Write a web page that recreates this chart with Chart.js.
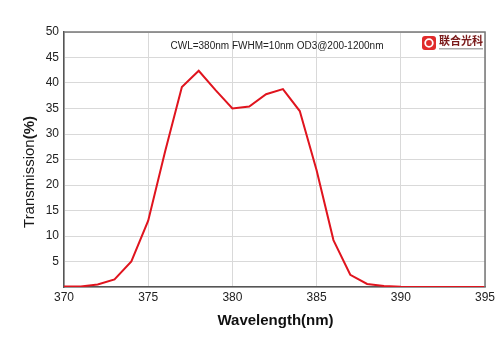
<!DOCTYPE html>
<html>
<head>
<meta charset="utf-8">
<script src="https://cdn.jsdelivr.net/npm/chart.js@4/dist/chart.umd.min.js"></script>
<style>
  html, body { margin: 0; padding: 0; background: #fff; }
  #wrap { width: 500px; height: 353px; position: relative; }
</style>
</head>
<body>
<div id="wrap"><canvas id="specChart" width="500" height="353"></canvas></div>
<script>
// --- spectrum data ---
const wavelengths = [370, 371, 372, 373, 374, 375, 376, 377, 378, 379, 380, 381, 382, 383, 384, 385, 386, 387, 388, 389, 390, 391, 392, 393, 394, 395];
const transmission = [0.1, 0.1, 0.5, 1.5, 5, 13, 26.5, 39.2, 42.4, 38.6, 35.0, 35.4, 37.8, 38.8, 34.5, 22.9, 9.2, 2.4, 0.6, 0.2, 0.05, 0, 0, 0, 0, 0];
const xTicks = [370, 375, 380, 385, 390, 395];
const yTicks = [5, 10, 15, 20, 25, 30, 35, 40, 45, 50];
const noteText = 'CWL=380nm FWHM=10nm OD3@200-1200nm';
const brandText = '联合光科';

const FONT = '"Liberation Sans", Arial, sans-serif';

// titles, frame, note and logo
const decor = {
  id: 'decor',
  afterDraw(chart){
    const c = chart.ctx, a = chart.chartArea;
    c.save();
    // top/right frame
    c.strokeStyle = '#777';
    c.lineWidth = 1.5;
    c.beginPath();
    c.moveTo(a.left, a.top); c.lineTo(a.right, a.top); c.lineTo(a.right, a.bottom);
    c.stroke();

    // x title
    c.fillStyle = '#111';
    c.font = 'bold 15px ' + FONT;
    c.textAlign = 'center';
    c.textBaseline = 'middle';
    c.fillText('Wavelength(nm)', (a.left + a.right) / 2 + 1, 321);

    // y title: normal + bold part
    c.translate(30, 172);
    c.rotate(-Math.PI / 2);
    c.textAlign = 'left';
    c.fillStyle = '#1a1a1a';
    c.font = '15px ' + FONT;
    const w1 = c.measureText('Transmission').width;
    c.font = 'bold 15px ' + FONT;
    const w2 = c.measureText('(%)').width;
    const x0 = -(w1 + w2) / 2;
    c.font = '15px ' + FONT;
    c.fillText('Transmission', x0, 0);
    c.font = 'bold 15px ' + FONT;
    c.fillText('(%)', x0 + w1, 0);
    c.setTransform(1, 0, 0, 1, 0, 0);

    // note
    c.font = '10px ' + FONT;
    c.textAlign = 'center';
    c.fillStyle = '#222';
    c.fillText(noteText, 277, 46);

    // logo
    const lx = 422, ly = 36;
    c.fillStyle = '#e02a2a';
    c.beginPath();
    c.roundRect(lx, ly, 14, 14, 3);
    c.fill();
    c.strokeStyle = '#fff';
    c.lineWidth = 1.8;
    c.beginPath();
    c.arc(lx + 7, ly + 7, 3.8, 0, Math.PI * 2);
    c.stroke();
    c.fillStyle = '#7a1a1a';
    c.font = 'bold 11px "Noto Sans CJK SC", sans-serif';
    c.textAlign = 'left';
    c.fillText(brandText, lx + 17, ly + 5);
    c.fillStyle = '#aaa';
    c.fillRect(lx + 17, ly + 12, 44, 1.5);
    c.restore();
  }
};

new Chart(document.getElementById('specChart'), {
  type: 'line',
  data: {
    datasets: [{
      data: wavelengths.map((x, i) => ({ x, y: transmission[i] })),
      borderColor: '#e0141e',
      borderWidth: 2,
      pointRadius: 0,
      tension: 0,
      fill: false
    }]
  },
  options: {
    responsive: false,
    animation: false,
    layout: { padding: { top: 32, right: 15, left: 0, bottom: 0 } },
    plugins: { legend: { display: false }, tooltip: { enabled: false } },
    scales: {
      x: {
        type: 'linear',
        min: 370, max: 395,
        afterBuildTicks: s => { s.ticks = xTicks.map(v => ({ value: v })); },
        afterFit: s => { s.height = 66; },
        ticks: { color: '#222', font: { family: FONT, size: 12 }, padding: 3, maxRotation: 0 },
        grid: { color: '#d9d9d9', lineWidth: 1, drawTicks: false },
        border: { color: '#555', width: 1.5 }
      },
      y: {
        min: 0, max: 50,
        afterBuildTicks: s => { s.ticks = [0].concat(yTicks).map(v => ({ value: v })); },
        afterFit: s => { s.width = 64; },
        ticks: { color: '#222', font: { family: FONT, size: 12 }, padding: 5, callback: v => v === 0 ? '' : v },
        grid: { color: '#d9d9d9', lineWidth: 1, drawTicks: false },
        border: { color: '#555', width: 1.5 }
      }
    }
  },
  plugins: [decor]
});
</script>
</body>
</html>
